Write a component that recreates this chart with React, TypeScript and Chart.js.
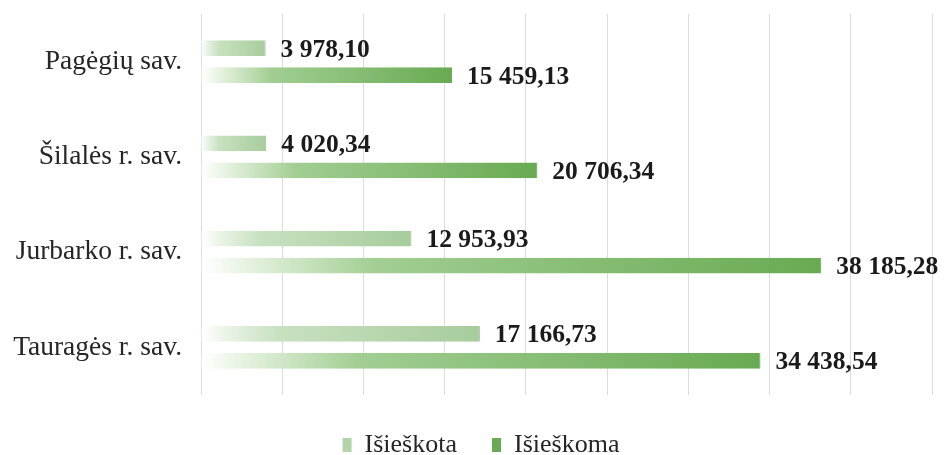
import React, { useEffect, useRef } from "react";
import { Chart, registerables } from "chart.js";

Chart.register(...registerables);

const categories = ["Pagėgių sav.", "Šilalės r. sav.", "Jurbarko r. sav.", "Tauragės r. sav."];
const seriesNames = ["Išieškota", "Išieškoma"];
const isieskota = [3978.1, 4020.34, 12953.93, 17166.73];
const isieskoma = [15459.13, 20706.34, 38185.28, 34438.54];
const axisMax = 45000;
const axisStep = 5000;

const FONT = "'Liberation Serif', 'Times New Roman', serif";

function fmt(v: number): string {
  const [i, d] = v.toFixed(2).split(".");
  return i.replace(/\B(?=(\d{3})+(?!\d))/g, " ") + "," + d;
}

function grad(pale: string, mid: string, end: string) {
  return (ctx: any) => {
    const chart = ctx.chart;
    const xs = chart.scales && chart.scales.x;
    if (!xs || ctx.type !== "data") return end;
    const v = ctx.raw as number;
    const x0 = xs.getPixelForValue(0);
    const x1 = xs.getPixelForValue(v);
    if (!isFinite(x0) || !isFinite(x1) || x1 - x0 < 1) return end;
    const g = chart.ctx.createLinearGradient(x0, 0, x1, 0);
    g.addColorStop(0, "rgba(255,255,255,1)");
    g.addColorStop(0.1, pale);
    g.addColorStop(0.28, mid);
    g.addColorStop(1, end);
    return g;
  };
}

const legendColors = ["rgb(178,212,168)", "rgb(106,170,85)"];

const valueLabels = {
  id: "valueLabels",
  afterDatasetsDraw(chart: any) {
    const ctx = chart.ctx;
    ctx.save();
    ctx.font = `bold 25.5px ${FONT}`;
    ctx.fillStyle = "#1a1a1a";
    ctx.textAlign = "left";
    ctx.textBaseline = "middle";
    chart.data.datasets.forEach((ds: any, di: number) => {
      const meta = chart.getDatasetMeta(di);
      meta.data.forEach((el: any, i: number) => {
        ctx.fillText(fmt(ds.data[i]), el.x + 15, el.y + 2);
      });
    });
    ctx.restore();
  },
};

const legendShift = {
  id: "legendShift",
  afterLayout(chart: any) {
    if (chart.legend) {
      chart.legend.left += 15;
      chart.legend.right += 15;
    }
  },
};

export default function App() {
  const ref = useRef<HTMLCanvasElement | null>(null);

  useEffect(() => {
    document.body.style.margin = "0";
    const canvas = ref.current;
    if (!canvas) return;
    const chart = new Chart(canvas, {
      type: "bar",
      data: {
        labels: categories,
        datasets: [
          {
            label: seriesNames[0],
            data: isieskota,
            backgroundColor: grad("rgb(232,242,229)", "rgb(200,225,192)", "rgb(166,204,156)"),
            borderColor: "rgb(150,190,140)",
            borderWidth: { top: 0, bottom: 0, left: 0, right: 1 },
            borderSkipped: false,
            categoryPercentage: 0.567,
            barPercentage: 0.59,
          },
          {
            label: seriesNames[1],
            data: isieskoma,
            backgroundColor: grad("rgb(222,238,215)", "rgb(162,206,147)", "rgb(104,170,82)"),
            borderColor: "rgb(88,155,68)",
            borderWidth: { top: 0, bottom: 0, left: 0, right: 1 },
            borderSkipped: false,
            categoryPercentage: 0.567,
            barPercentage: 0.59,
          },
        ],
      },
      options: {
        indexAxis: "y",
        responsive: false,
        animation: false,
        layout: { padding: { top: 14, right: 13, left: 0, bottom: -13 } },
        scales: {
          x: {
            min: 0,
            max: axisMax,
            ticks: { display: false, stepSize: axisStep },
            grid: { color: "#dcdcdc", drawTicks: false, lineWidth: 1 },
            border: { display: false },
            afterFit: (s: any) => {
              s.height = 2;
              s.paddingLeft = 0;
              s.paddingRight = 0;
            },
          },
          y: {
            ticks: {
              font: { family: FONT, size: 27.5 },
              color: "#262626",
              padding: 19,
            },
            grid: { display: false, drawTicks: false },
            border: { display: false },
            afterFit: (s: any) => {
              s.width = 201;
              s.paddingTop = 0;
              s.paddingBottom = 0;
            },
          },
        },
        plugins: {
          tooltip: { enabled: false },
          legend: {
            position: "bottom",
            labels: {
              font: { family: FONT, size: 26 },
              color: "#262626",
              boxWidth: 9,
              boxHeight: 14,
              padding: 35,
              generateLabels: (c: any) =>
                c.data.datasets.map((ds: any, i: number) => ({
                  text: ds.label,
                  fillStyle: legendColors[i],
                  strokeStyle: legendColors[i],
                  lineWidth: 0,
                  hidden: false,
                  datasetIndex: i,
                  fontColor: "#262626",
                })),
            },
          },
        },
      },
      plugins: [valueLabels, legendShift],
    });
    return () => chart.destroy();
  }, []);

  return (
    <div style={{ width: 945, height: 455 }}>
      <canvas ref={ref} width={945} height={455} style={{ display: "block", width: 945, height: 455 }} />
    </div>
  );
}
